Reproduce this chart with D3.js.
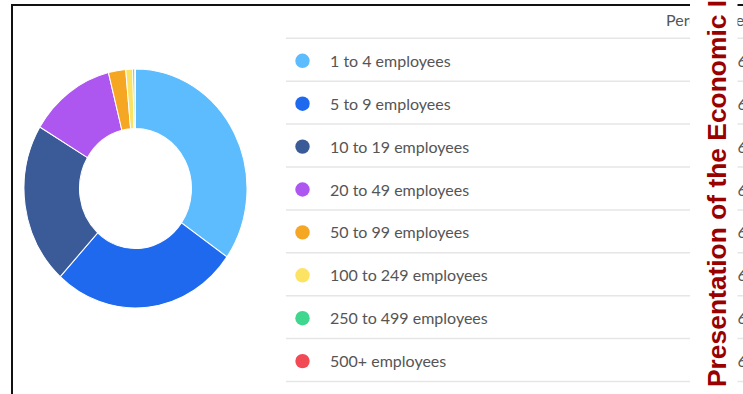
<!DOCTYPE html>
<html>
<head>
<meta charset="utf-8">
<script src="https://cdn.jsdelivr.net/npm/d3@7"></script>
<style>
  body { margin: 0; background: #fff; }
  svg { display: block; }
  .label { font-family: Lato, "Open Sans", sans-serif; font-size: 16px; fill: #555; }
  .overlay { font-family: "Liberation Sans", Arial, sans-serif; font-weight: bold; font-size: 26.4px; fill: #990000; }
</style>
</head>
<body>
<svg id="chart" width="743" height="394"></svg>
<script>
const categories = ["1 to 4 employees", "5 to 9 employees", "10 to 19 employees", "20 to 49 employees",
                    "50 to 99 employees", "100 to 249 employees", "250 to 499 employees", "500+ employees"];
const shares = [34.7, 27.1, 21.8, 12.5, 2.5, 1.0, 0.3, 0.1];
const colors = ["#5cbcfe", "#1e69ee", "#3a5a98", "#ad56f0", "#f5a623", "#fde363", "#3fd68e", "#f24a55"];
const columnHeader = "Percentage";
const columnValues = ["6", "6", "6", "6", "6", "6", "6", "6"];
const overlayTitle = "Presentation of the Economic Impact";

const svg = d3.select("#chart");

// frame lines
svg.append("line").attr("x1", 12).attr("y1", 5).attr("x2", 743).attr("y2", 5)
    .attr("stroke", "#111").attr("stroke-width", 2);
svg.append("line").attr("x1", 12).attr("y1", 4).attr("x2", 12).attr("y2", 394)
    .attr("stroke", "#111").attr("stroke-width", 2);

// donut
const pie = d3.pie().sort(null).value(d => d);
const arc = d3.arc().innerRadius(56).outerRadius(111.5);
svg.append("g")
    .attr("transform", "translate(135.5,188.5) scale(1,1.072)")
    .selectAll("path")
    .data(pie(shares))
    .join("path")
    .attr("d", arc)
    .attr("fill", (d, i) => colors[i])
    .attr("stroke", "#fff")
    .attr("stroke-width", 1);

// legend table
const rowY = d3.scaleLinear().domain([0, 1]).range([38.3, 81.2]);

svg.append("text").attr("class", "label")
    .attr("x", 666).attr("y", 25.5).text(columnHeader);

svg.selectAll(".sep")
    .data(d3.range(categories.length + 1))
    .join("line")
    .attr("class", "sep")
    .attr("x1", 286).attr("x2", 743)
    .attr("y1", d => rowY(d)).attr("y2", d => rowY(d))
    .attr("stroke", "#e6e6e6").attr("stroke-width", 1.5);

const rows = svg.selectAll(".row")
    .data(categories)
    .join("g")
    .attr("class", "row")
    .attr("transform", (d, i) => `translate(0,${rowY(i)})`);
rows.append("circle")
    .attr("cx", 302.5).attr("cy", 22.5).attr("r", 7.2)
    .attr("fill", (d, i) => colors[i]);
rows.append("text").attr("class", "label")
    .attr("x", 330).attr("y", 28.5)
    .text(d => d);
rows.append("text").attr("class", "label")
    .attr("x", 737.5).attr("y", 28.5)
    .text((d, i) => columnValues[i]);

// overlaid vertical title on white strip
svg.append("rect").attr("x", 690).attr("y", 0).attr("width", 47.5).attr("height", 394).attr("fill", "#fff");
svg.append("text").attr("class", "overlay")
    .attr("transform", "translate(725.5,387) rotate(-90)")
    .text(overlayTitle);
</script>
</body>
</html>
